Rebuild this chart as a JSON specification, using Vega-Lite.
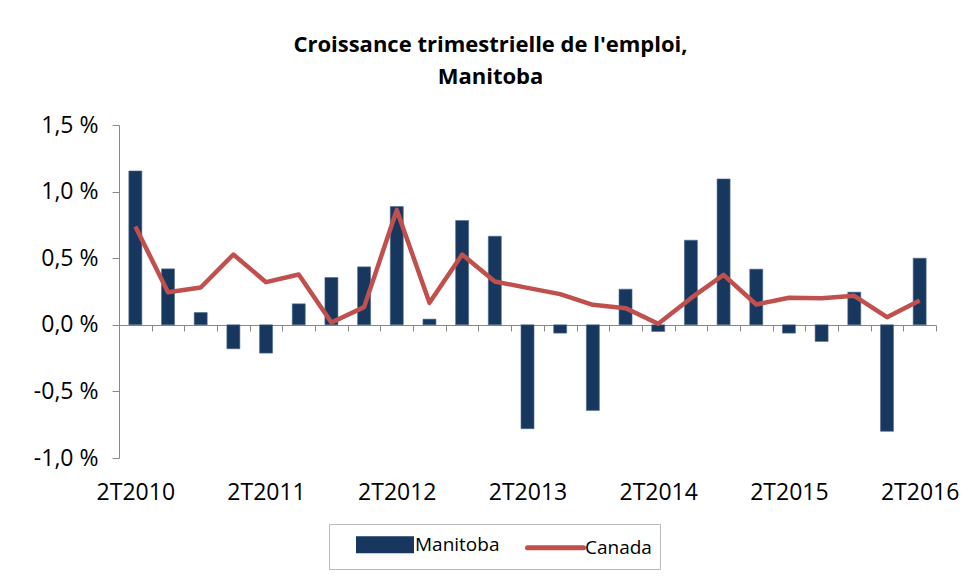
{
  "$schema": "https://vega.github.io/schema/vega-lite/v6.json",
  "width": 817,
  "height": 333,
  "autosize": {"type": "none"},
  "padding": {"left": 119, "top": 125, "right": 43, "bottom": 122},
  "background": "white",
  "config": {"view": {"stroke": null}},
  "title": {
    "text": ["Croissance trimestrielle de l'emploi,", "Manitoba"],
    "font": "Open Sans",
    "fontSize": 22,
    "fontWeight": "bold",
    "color": "#000000",
    "anchor": "middle",
    "dx": -37,
    "lineHeight": 32,
    "offset": 25
  },
  "data": {
    "values": [
      {"q": "2T2010", "Manitoba": 1.155, "Canada": 0.7375},
      {"q": "3T2010", "Manitoba": 0.42, "Canada": 0.245},
      {"q": "4T2010", "Manitoba": 0.0925, "Canada": 0.28},
      {"q": "1T2011", "Manitoba": -0.18, "Canada": 0.5275},
      {"q": "2T2011", "Manitoba": -0.2125, "Canada": 0.32},
      {"q": "3T2011", "Manitoba": 0.1575, "Canada": 0.3775},
      {"q": "4T2011", "Manitoba": 0.355, "Canada": 0.0175},
      {"q": "1T2012", "Manitoba": 0.435, "Canada": 0.1325},
      {"q": "2T2012", "Manitoba": 0.8875, "Canada": 0.8625},
      {"q": "3T2012", "Manitoba": 0.0425, "Canada": 0.165},
      {"q": "4T2012", "Manitoba": 0.7825, "Canada": 0.5275},
      {"q": "1T2013", "Manitoba": 0.665, "Canada": 0.325},
      {"q": "2T2013", "Manitoba": -0.78, "Canada": 0.2775},
      {"q": "3T2013", "Manitoba": -0.0625, "Canada": 0.23},
      {"q": "4T2013", "Manitoba": -0.6425, "Canada": 0.15},
      {"q": "1T2014", "Manitoba": 0.2675, "Canada": 0.125},
      {"q": "2T2014", "Manitoba": -0.05, "Canada": 0.0075},
      {"q": "3T2014", "Manitoba": 0.635, "Canada": 0.2},
      {"q": "4T2014", "Manitoba": 1.095, "Canada": 0.375},
      {"q": "1T2015", "Manitoba": 0.4175, "Canada": 0.1525},
      {"q": "2T2015", "Manitoba": -0.0625, "Canada": 0.2025},
      {"q": "3T2015", "Manitoba": -0.125, "Canada": 0.2},
      {"q": "4T2015", "Manitoba": 0.245, "Canada": 0.2175},
      {"q": "1T2016", "Manitoba": -0.8, "Canada": 0.0575},
      {"q": "2T2016", "Manitoba": 0.5, "Canada": 0.1825}
    ]
  },
  "transform": [{"fold": ["Manitoba", "Canada"], "as": ["serie", "valeur"]}],
  "encoding": {
    "x": {
      "field": "q",
      "type": "ordinal",
      "sort": null,
      "scale": {"paddingInner": 0, "paddingOuter": 0},
      "axis": {
        "title": null,
        "tickBand": "extent",
        "offset": -133,
        "tickSize": 6,
        "labelPadding": 150,
        "labelAngle": 0,
        "labelOverlap": false,
        "labelExpr": "substring(datum.value,0,2)=='2T' ? datum.value : ''",
        "domainColor": "#888888",
        "tickColor": "#888888",
        "labelFont": "Open Sans",
        "labelFontSize": 23,
        "labelColor": "#000000"
      }
    },
    "y": {
      "field": "valeur",
      "type": "quantitative",
      "scale": {"domain": [-1, 1.5], "nice": false, "zero": false},
      "axis": {
        "title": null,
        "grid": false,
        "values": [-1, -0.5, 0, 0.5, 1, 1.5],
        "labelExpr": "replace(replace(format(datum.value,'.1f'),'.',','),'−','-') + ' %'",
        "labelFont": "Open Sans",
        "labelFontSize": 23,
        "labelColor": "#000000",
        "domainColor": "#888888",
        "tickColor": "#888888",
        "tickSize": 7,
        "labelPadding": 14
      }
    },
    "color": {
      "field": "serie",
      "type": "nominal",
      "scale": {"domain": ["Manitoba", "Canada"], "range": ["#17375E", "#C0504D"]},
      "legend": {
        "title": null,
        "orient": "none",
        "legendX": 210,
        "legendY": 399,
        "direction": "horizontal",
        "strokeColor": "#BBBBBB",
        "padding": 8,
        "labelFont": "Open Sans",
        "labelFontSize": 19,
        "labelColor": "#000000",
        "symbolSize": 400,
        "columnPadding": 7,
        "labelOffset": 53,
        "encode": {
          "symbols": {
            "update": {
              "shape": {"signal": "datum.value=='Manitoba' ? 'M0.9,-0.6H6.2V0.6H0.9Z' : 'M0.8,0H6.4'"},
              "fill": {"signal": "datum.value=='Manitoba' ? '#17375E' : 'transparent'"},
              "stroke": {"signal": "datum.value=='Manitoba' ? 'transparent' : '#C0504D'"},
              "strokeWidth": {"value": 5},
              "strokeCap": {"value": "round"},
              "opacity": {"value": 1}
            }
          }
        }
      }
    }
  },
  "layer": [
    {
      "transform": [{"filter": "datum.serie=='Manitoba'"}],
      "mark": {"type": "bar", "size": 13, "stroke": "#4F6B8F", "strokeWidth": 0.6}
    },
    {
      "transform": [{"filter": "datum.serie=='Canada'"}],
      "mark": {"type": "line", "strokeWidth": 4.5, "strokeJoin": "round"}
    }
  ]
}
